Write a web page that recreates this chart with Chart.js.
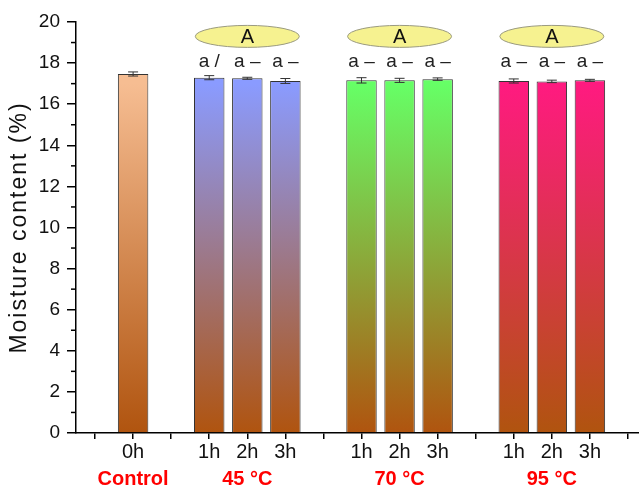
<!DOCTYPE html>
<html>
<head>
<meta charset="utf-8">
<script src="https://cdn.jsdelivr.net/npm/chart.js@4"></script>
<style>
  html, body { margin: 0; padding: 0; background: #fff; overflow: hidden; }
  #wrap { width: 660px; height: 491px; }
</style>
</head>
<body>
<div id="wrap"><canvas id="chartContainer"></canvas></div>
<script>
// slots along the x axis (empty strings are the spacer ticks)
const timeLabels = ['', '0h', '', '1h', '2h', '3h', '', '1h', '2h', '3h', '', '1h', '2h', '3h', ''];
const groupLabels = ['', 'Control', '', '', '45 °C', '', '', '', '70 °C', '', '', '', '95 °C', '', ''];
const moisture = [null, 17.47, null, 17.29, 17.26, 17.13, null, 17.16, 17.16, 17.22, null, 17.13, 17.11, 17.16, null];
const moistureErr = [null, 0.10, null, 0.10, 0.05, 0.12, null, 0.13, 0.10, 0.06, null, 0.10, 0.06, 0.05, null];
const barLetters = ['', '', '', 'a /', 'a –', 'a –', '', 'a –', 'a –', 'a –', '', 'a –', 'a –', 'a –', ''];
const groupLetters = ['', '', '', '', 'A', '', '', '', 'A', '', '', '', 'A', '', ''];
const topColors = [null, '#f6bd92', null, '#8a9bff', '#8a9bff', '#8a9bff', null, '#66ff66', '#66ff66', '#66ff66', null, '#ff1a80', '#ff1a80', '#ff1a80', null];
const bottomColor = '#b0540f';
const yTitle = 'Moisture content (%)';

const font = "'Liberation Sans', Arial, sans-serif";

function barGradient(context) {
  const chart = context.chart;
  const area = chart.chartArea;
  const top = topColors[context.dataIndex];
  if (!area || !top) return top;
  const g = chart.ctx.createLinearGradient(0, area.top, 0, area.bottom);
  g.addColorStop(0, top);
  g.addColorStop(0.15, top);
  g.addColorStop(1, bottomColor);
  return g;
}

// error bars, minor y ticks, y title and the letter annotations
const extras = {
  id: 'extras',
  afterDatasetsDraw(chart) {
    const ctx = chart.ctx;
    const y = chart.scales.y;
    const x = chart.scales.x;
    const meta = chart.getDatasetMeta(0);

    ctx.save();
    // error bars
    ctx.strokeStyle = '#333';
    ctx.lineWidth = 1;
    meta.data.forEach((bar, i) => {
      if (moisture[i] == null) return;
      const yHi = y.getPixelForValue(moisture[i] + moistureErr[i]);
      const yLo = y.getPixelForValue(moisture[i] - moistureErr[i]);
      ctx.beginPath();
      ctx.moveTo(bar.x, yHi); ctx.lineTo(bar.x, yLo);
      ctx.moveTo(bar.x - 5, yHi); ctx.lineTo(bar.x + 5, yHi);
      ctx.moveTo(bar.x - 5, yLo); ctx.lineTo(bar.x + 5, yLo);
      ctx.stroke();
    });

    // minor ticks on the y axis
    ctx.strokeStyle = '#000';
    ctx.lineWidth = 1.5;
    for (let v = 1; v < 20; v += 2) {
      const py = y.getPixelForValue(v);
      ctx.beginPath();
      ctx.moveTo(y.right - 5, py); ctx.lineTo(y.right, py);
      ctx.stroke();
    }

    // group ellipses with "A"
    ctx.textAlign = 'center';
    ctx.textBaseline = 'middle';
    groupLetters.forEach((t, i) => {
      if (!t) return;
      const cx = x.getPixelForValue(i);
      const cy = y.getPixelForValue(19.3);
      ctx.beginPath();
      ctx.ellipse(cx, cy, 52, 11, 0, 0, Math.PI * 2);
      ctx.fillStyle = '#f6f290';
      ctx.fill();
      ctx.strokeStyle = '#9a9a80';
      ctx.lineWidth = 1;
      ctx.stroke();
      ctx.fillStyle = '#111';
      ctx.font = '20px ' + font;
      ctx.fillText(t, cx, cy + 1);
    });

    // per-bar letters
    ctx.font = '19px ' + font;
    ctx.fillStyle = '#222';
    barLetters.forEach((t, i) => {
      if (!t) return;
      ctx.fillText(t, x.getPixelForValue(i), y.getPixelForValue(18.05));
    });

    // y axis title, a bit wider spaced than the default
    ctx.translate(20, (y.top + y.bottom) / 2);
    ctx.rotate(-Math.PI / 2);
    ctx.font = '23px ' + font;
    ctx.letterSpacing = '2px';
    ctx.fillStyle = '#111';
    ctx.fillText(yTitle, 0, 0);
    ctx.restore();
  }
};

const ctx = document.getElementById('chartContainer').getContext('2d');
window.myChart = new Chart(ctx, {
  type: 'bar',
  data: {
    labels: timeLabels,
    datasets: [{
      label: yTitle,
      data: moisture,
      backgroundColor: barGradient,
      borderColor: '#333',
      borderWidth: 1,
      barPercentage: 0.8,
      categoryPercentage: 1.0
    }]
  },
  options: {
    responsive: true,
    maintainAspectRatio: false,
    animation: false,
    layout: { padding: { top: 22, right: 13, left: 0, bottom: 0 } },
    plugins: {
      legend: { display: false },
      tooltip: { enabled: false }
    },
    scales: {
      x: {
        type: 'category',
        offset: true,
        grid: { offset: false, drawOnChartArea: false, tickLength: 6, color: '#000', lineWidth: 1.5 },
        border: { color: '#000', width: 1.5 },
        ticks: { color: '#111', font: { family: font, size: 20 }, padding: 1, maxRotation: 0, autoSkip: false },
        afterFit(scale) { scale.height = 26; }
      },
      x2: {
        type: 'category',
        position: 'bottom',
        labels: groupLabels,
        offset: true,
        grid: { display: false },
        border: { display: false },
        ticks: { color: '#ff0000', font: { family: font, size: 20, weight: 'bold' }, padding: 0, maxRotation: 0, autoSkip: false },
        afterFit(scale) { scale.height = 32; }
      },
      y: {
        min: 0,
        max: 20,
        ticks: { stepSize: 2, color: '#111', font: { family: font, size: 19 }, padding: 7 },
        grid: { drawOnChartArea: false, tickLength: 9, color: '#000', lineWidth: 1.5 },
        border: { color: '#000', width: 1.5 },
        title: { display: false },
        afterFit(scale) { scale.width = 76; }
      }
    }
  },
  plugins: [extras]
});
</script>
</body>
</html>
